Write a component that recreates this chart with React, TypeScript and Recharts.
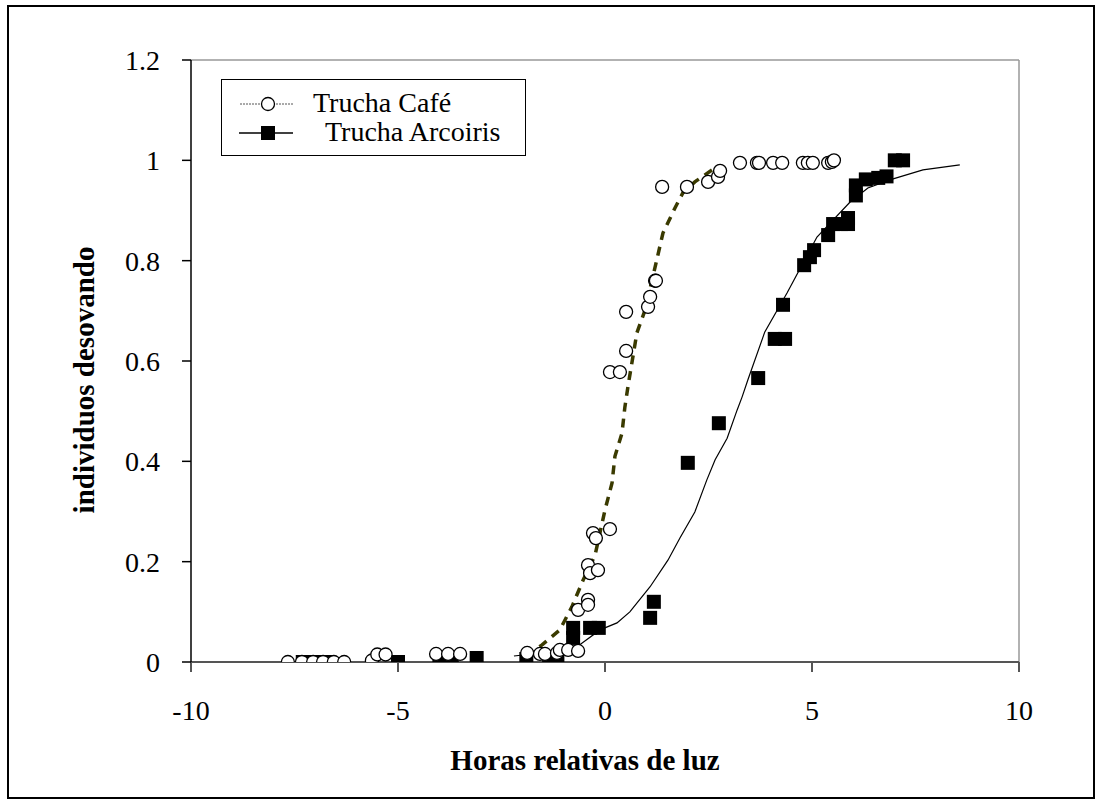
import React from 'react';
import {
  ScatterChart,
  Scatter,
  XAxis,
  YAxis,
  ReferenceLine,
  Legend,
} from 'recharts';

interface Pt {
  x: number;
  y: number;
}

// observed points, Trucha Café (open circles)
const cafeX = [
  -7.66, -7.32, -7.05, -6.81, -6.55, -6.3,
  -5.63, -5.5, -5.3,
  -4.08, -3.79, -3.5,
  -1.88, -1.57, -1.45, -1.16, -1.09, -0.89, -0.65,
  -0.65, -0.41, -0.41, -0.41, -0.36, -0.17, -0.29, -0.22, 0.12,
  0.12, 0.36, 0.51, 0.51, 1.04, 1.09, 1.21, 1.23,
  1.38, 1.98, 2.49, 2.73, 2.78,
  3.26, 3.67, 3.72, 4.06, 4.28, 4.78, 4.9, 5.02, 5.39, 5.48, 5.53,
];
const cafeY = [
  0, 0, 0, 0, 0, 0,
  0.003, 0.015, 0.015,
  0.016, 0.016, 0.016,
  0.018, 0.016, 0.016, 0.018, 0.024, 0.024, 0.022,
  0.104, 0.124, 0.114, 0.193, 0.177, 0.183, 0.257, 0.247, 0.265,
  0.578, 0.578, 0.62, 0.698, 0.708, 0.728, 0.76, 0.76,
  0.947, 0.947, 0.957, 0.967, 0.979,
  0.995, 0.995, 0.995, 0.995, 0.995, 0.995, 0.995, 0.995, 0.995, 0.997, 1.0,
];

// observed points, Trucha Arcoiris (filled squares)
const arcoX = [
  -7.3, -7.0, -6.75, -5.0, -4.0, -3.85, -3.7, -3.1,
  -1.9, -1.35, -1.15, -0.77, -0.77, -0.36, -0.15,
  1.09, 1.18, 2.0, 2.75, 3.7, 4.1, 4.35, 4.3,
  4.81, 4.95, 5.05, 5.39, 5.51, 5.7, 5.87, 5.87,
  6.06, 6.06, 6.3, 6.6, 6.8, 7.0, 7.2,
];
const arcoY = [
  0, 0, 0, 0, 0, 0, 0, 0.008,
  0.006, 0.006, 0.006, 0.048, 0.068, 0.068, 0.068,
  0.088, 0.12, 0.397, 0.476, 0.566, 0.644, 0.644, 0.712,
  0.791, 0.807, 0.821, 0.851, 0.873, 0.873, 0.873, 0.885,
  0.93, 0.95, 0.962, 0.965, 0.968, 1.0, 1.0,
];

// fitted curves
const cafeFitX = [
  -1.9, -1.52, -1.09, -0.8, -0.53, -0.24, 0, 0.17, 0.24, 0.41, 0.48, 0.56,
  0.77, 0.97, 1.26, 1.4, 1.69, 1.88, 2.17, 2.66,
];
const cafeFitY = [
  0.012, 0.034, 0.064, 0.11, 0.163, 0.213, 0.303, 0.357, 0.41, 0.456, 0.508, 0.552,
  0.656, 0.702, 0.805, 0.855, 0.905, 0.935, 0.957, 0.985,
];
const arcoFitX = [
  -2.2, -1.5, -1.0, -0.6, -0.12, 0.29, 0.6, 1.09, 1.52, 1.81, 2.17, 2.46, 2.66,
  2.95, 3.19, 3.31, 3.45, 3.86, 4.4, 5.12, 5.92, 6.35, 6.88, 7.68, 8.57,
];
const arcoFitY = [
  0.012, 0.018, 0.026, 0.035, 0.064, 0.078, 0.1, 0.15, 0.203, 0.247, 0.299, 0.363, 0.403,
  0.446, 0.502, 0.528, 0.562, 0.658, 0.736, 0.847, 0.917, 0.945, 0.961, 0.981, 0.991,
];

const xTicks = [-10, -5, 0, 5, 10];
const yTicks = [0, 0.2, 0.4, 0.6, 0.8, 1, 1.2];

const zip = (xs: number[], ys: number[]): Pt[] => xs.map((x, i) => ({ x, y: ys[i] }));

const cafe = zip(cafeX, cafeY);
const arco = zip(arcoX, arcoY);
const cafeFit = zip(cafeFitX, cafeFitY);
const arcoFit = zip(arcoFitX, arcoFitY);

const FONT = '"Liberation Serif", "Times New Roman", serif';

const Circle = (p: any) => (
  <circle cx={p.cx} cy={p.cy} r={6.5} fill="#fff" stroke="#000" strokeWidth={1.3} />
);
const Square = (p: any) => (
  <rect x={p.cx - 7} y={p.cy - 7} width={14} height={14} fill="#000" />
);
const NoMark = () => <g />;

const LegendBox = () => (
  <div
    style={{
      width: 305,
      height: 77,
      border: '1px solid #000',
      background: '#fff',
      boxSizing: 'border-box',
      fontFamily: FONT,
      fontSize: 28,
      position: 'relative',
    }}
  >
    <svg width={80} height={75} style={{ position: 'absolute', left: 0, top: 0 }}>
      <line x1={18} y1={24} x2={72} y2={24} stroke="#555" strokeWidth={1} strokeDasharray="2 1" />
      <circle cx={46} cy={24} r={6.5} fill="#fff" stroke="#000" strokeWidth={1.3} />
      <line x1={17} y1={53} x2={71} y2={53} stroke="#000" strokeWidth={1.5} />
      <rect x={39} y={46} width={14} height={14} fill="#000" />
    </svg>
    <div style={{ position: 'absolute', left: 91, top: 7, lineHeight: '32px' }}>Trucha Café</div>
    <div style={{ position: 'absolute', left: 103, top: 36, lineHeight: '32px' }}>Trucha Arcoiris</div>
  </div>
);

const XTitle = (props: any) => {
  const vb = props.viewBox;
  return (
    <text
      x={vb.x + vb.width / 2 - 20}
      y={vb.y + vb.height - 2}
      textAnchor="middle"
      fontFamily={FONT}
      fontSize={29}
      fontWeight="bold"
      fill="#000"
    >
      Horas relativas de luz
    </text>
  );
};

const YTitle = () => (
  <text
    x={84}
    y={380}
    textAnchor="middle"
    dominantBaseline="central"
    transform="rotate(-90, 84, 380)"
    fontFamily={FONT}
    fontSize={29}
    fontWeight="bold"
    fill="#000"
  >
    individuos desovando
  </text>
);

export default function App() {
  const tickStyle = { fontFamily: FONT, fontSize: 28, fill: '#000' };
  return (
    <div style={{ position: 'absolute', left: 0, top: 0, width: 1102, height: 806, background: '#fff' }}>
      <div
        style={{
          position: 'absolute',
          left: 7,
          top: 5,
          width: 1088,
          height: 794,
          border: '2px solid #000',
          boxSizing: 'border-box',
        }}
      />
      <div style={{ position: 'absolute', left: 0, top: 0 }}>
        <ScatterChart
          width={1102}
          height={806}
          margin={{ top: 60, right: 83, bottom: 34, left: 120 }}
        >
          <XAxis
            type="number"
            dataKey="x"
            domain={[-10, 10]}
            ticks={xTicks}
            allowDataOverflow
            height={110}
            tickSize={10}
            tickMargin={28}
            tick={tickStyle}
            stroke="#555"
            strokeWidth={2}
            label={<XTitle />}
          />
          <YAxis
            type="number"
            dataKey="y"
            domain={[0, 1.2]}
            ticks={yTicks}
            allowDataOverflow
            width={71}
            tickSize={9}
            tickMargin={22}
            tick={tickStyle}
            stroke="#000"
            strokeWidth={1.5}
            tickFormatter={(v: number) => String(v)}
            label={<YTitle />}
          />
          <ReferenceLine y={1.2} stroke="#999" strokeWidth={1.5} />
          <ReferenceLine x={10} stroke="#999" strokeWidth={1.5} />
          <Scatter
            data={arcoFit}
            line={{ stroke: '#000', strokeWidth: 1.2 }}
            lineJointType="linear"
            shape={NoMark}
            legendType="none"
            isAnimationActive={false}
          />
          <Scatter
            data={cafeFit}
            line={{ stroke: '#3a3a00', strokeWidth: 3.5, strokeDasharray: '9 7' }}
            lineJointType="linear"
            shape={NoMark}
            legendType="none"
            isAnimationActive={false}
          />
          <Scatter name="Trucha Arcoiris" data={arco} shape={Square} isAnimationActive={false} />
          <Scatter name="Trucha Café" data={cafe} shape={Circle} isAnimationActive={false} />
          <Legend
            layout="horizontal"
            verticalAlign="middle"
            align="center"
            content={<LegendBox />}
            wrapperStyle={{ left: 221, top: 79, width: 305 }}
          />
        </ScatterChart>
      </div>
    </div>
  );
}
